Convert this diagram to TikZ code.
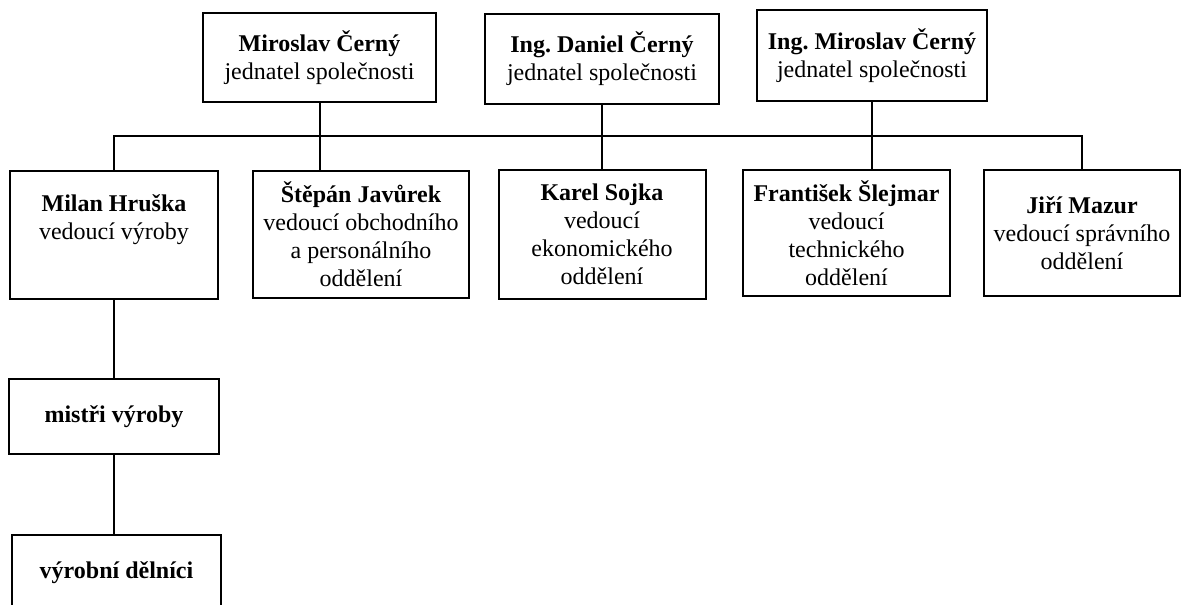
\documentclass[tikz,border=0pt]{standalone}
\usepackage{fontspec}
\setmainfont{Liberation Serif}
\usetikzlibrary{positioning}

\begin{document}
\begin{tikzpicture}[x=0.5pt, y=-0.5pt,
    orgbox/.style={draw, line width=1pt, align=center, inner sep=2pt,
      font=\fontsize{12}{14}\selectfont},
    link/.style={line width=1pt}]
    \useasboundingbox (0,0) rectangle (1181,604);
    % --- management ---
    \node[orgbox, minimum width=116.5pt, minimum height=44.5pt] (cerny) at (319.5,57.5)
      {\textbf{Miroslav Černý}\\jednatel společnosti};
    \node[orgbox, minimum width=117pt, minimum height=45pt] (daniel) at (602,59)
      {\textbf{Ing.\ Daniel Černý}\\jednatel společnosti};
    \node[orgbox, minimum width=115pt, minimum height=45.5pt] (ingcerny) at (872,56)
      {\textbf{Ing.\ Miroslav Černý}\\jednatel společnosti};
    % --- department heads ---
    \node[orgbox, minimum width=104pt, minimum height=64pt] (hruska) at (114,235)
      {\textbf{Milan Hruška}\\vedoucí výroby\\ \strut};
    \node[orgbox, minimum width=108pt, minimum height=63.5pt] (javurek) at (361,234.5)
      {\textbf{Štěpán Javůrek}\\vedoucí obchodního\\a personálního\\oddělení};
    \node[orgbox, minimum width=103.5pt, minimum height=64.5pt] (sojka) at (602,234.5)
      {\textbf{Karel Sojka}\\vedoucí\\ekonomického\\oddělení};
    \node[orgbox, minimum width=103.5pt, minimum height=63pt] (slejmar) at (846.5,233)
      {\textbf{František Šlejmar}\\vedoucí\\technického\\oddělení};
    \node[orgbox, minimum width=98pt, minimum height=63pt] (mazur) at (1082,233)
      {\textbf{Jiří Mazur}\\vedoucí správního\\oddělení};
    % --- production ---
    \node[orgbox, minimum width=105pt, minimum height=37.5pt] (mistri) at (114,416.5)
      {\textbf{mistři výroby}};
    \node[orgbox, minimum width=104.5pt, minimum height=37.5pt] (delnici) at (116.5,572.5)
      {\textbf{výrobní dělníci}};
    % --- connectors ---
    \coordinate (bus) at (0,136);
    \draw[link] (hruska.north) -- (hruska.north |- bus) -- (mazur.north |- bus)
      -- (mazur.north);
    \draw[link] (cerny.south) -- (cerny.south |- javurek.north);
    \draw[link] (daniel.south) -- (sojka.north);
    \draw[link] (ingcerny.south) -- (ingcerny.south |- slejmar.north);
    \draw[link] (hruska.south) -- (mistri.north);
    \draw[link] (mistri.south) -- (mistri.south |- delnici.north);
\end{tikzpicture}
\end{document}
